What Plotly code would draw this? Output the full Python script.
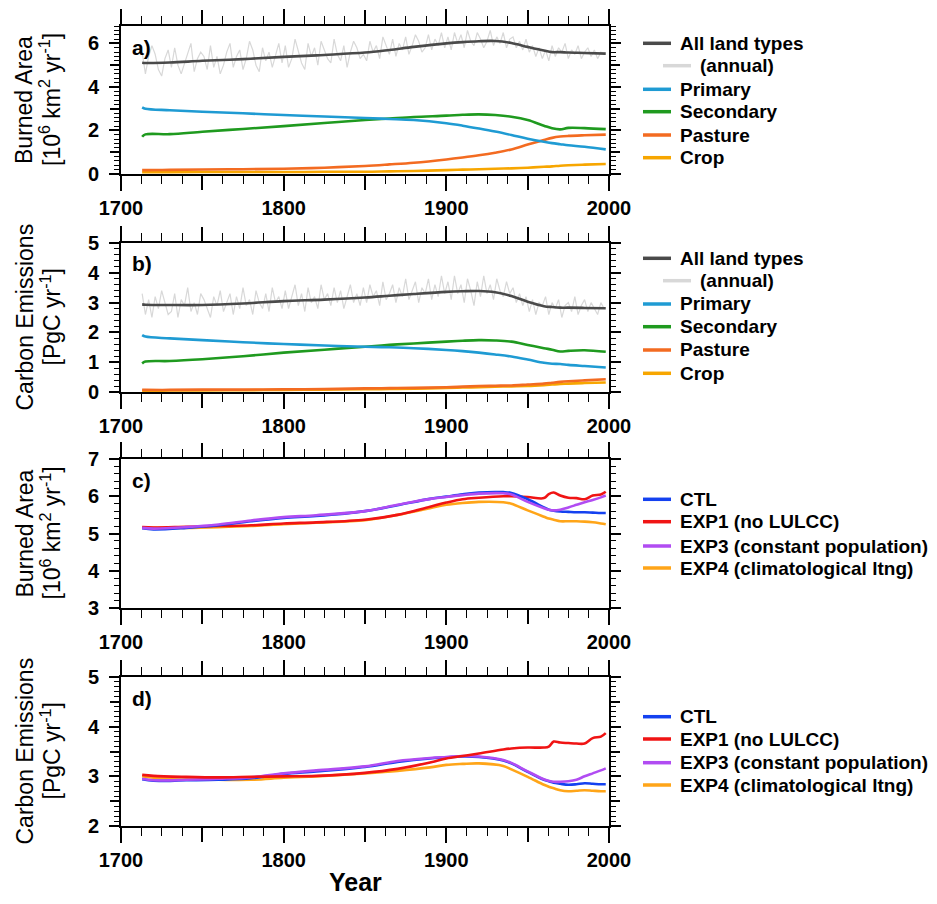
import plotly.graph_objects as go

# ---------------- DATA ----------------
# Panels a/b: smoothed series (knot years)
years_ab = [1713, 1715, 1730, 1750, 1775, 1800, 1825, 1850, 1865, 1880, 1900,
            1910, 1920, 1930, 1940, 1950, 1960, 1965, 1970, 1975, 1985, 1998]

ba_all = [5.11, 5.10, 5.12, 5.20, 5.28, 5.38, 5.47, 5.58, 5.70, 5.84, 6.00,
          6.06, 6.10, 6.11, 6.02, 5.84, 5.67, 5.60, 5.60, 5.58, 5.56, 5.53]
ba_primary = [3.06, 3.00, 2.93, 2.86, 2.79, 2.71, 2.64, 2.57, 2.53, 2.48, 2.33,
              2.22, 2.09, 1.95, 1.79, 1.62, 1.48, 1.42, 1.37, 1.32, 1.25, 1.13]
ba_secondary = [1.71, 1.82, 1.83, 1.94, 2.07, 2.20, 2.34, 2.48, 2.55, 2.62, 2.68,
                2.72, 2.74, 2.71, 2.63, 2.48, 2.22, 2.10, 2.05, 2.12, 2.11, 2.06]
ba_pasture = [0.18, 0.18, 0.19, 0.21, 0.22, 0.24, 0.29, 0.37, 0.44, 0.52, 0.67,
              0.76, 0.86, 0.98, 1.13, 1.35, 1.56, 1.66, 1.72, 1.75, 1.78, 1.81]
ba_crop = [0.08, 0.08, 0.08, 0.09, 0.09, 0.09, 0.10, 0.10, 0.12, 0.14, 0.18,
           0.20, 0.22, 0.24, 0.26, 0.29, 0.33, 0.35, 0.38, 0.40, 0.43, 0.46]

ce_all = [2.94, 2.93, 2.92, 2.92, 2.97, 3.05, 3.10, 3.17, 3.23, 3.29, 3.36,
          3.38, 3.39, 3.35, 3.22, 3.03, 2.88, 2.85, 2.83, 2.83, 2.82, 2.81]
ce_primary = [1.91, 1.86, 1.80, 1.74, 1.67, 1.61, 1.56, 1.52, 1.50, 1.47, 1.41,
              1.37, 1.32, 1.26, 1.19, 1.09, 0.98, 0.95, 0.94, 0.91, 0.87, 0.82]
ce_secondary = [0.96, 1.02, 1.04, 1.10, 1.20, 1.32, 1.42, 1.52, 1.58, 1.63, 1.69,
                1.72, 1.74, 1.73, 1.69, 1.58, 1.47, 1.42, 1.36, 1.38, 1.40, 1.35]
ce_pasture = [0.07, 0.07, 0.07, 0.08, 0.08, 0.09, 0.10, 0.12, 0.13, 0.14, 0.16,
              0.18, 0.20, 0.21, 0.22, 0.25, 0.28, 0.31, 0.34, 0.36, 0.39, 0.43]
ce_crop = [0.04, 0.04, 0.05, 0.05, 0.06, 0.07, 0.08, 0.09, 0.10, 0.11, 0.14,
           0.15, 0.16, 0.18, 0.19, 0.20, 0.23, 0.25, 0.27, 0.28, 0.30, 0.32]

# Annual (unsmoothed) totals, every second year 1713..1997
years_annual = list(range(1713, 1998, 2))
ba_annual = [
    5.6, 4.6, 5.4, 5.9, 5.5, 4.8, 4.5, 5.3, 5.7, 4.9, 5.8, 5.0, 4.6, 5.1, 5.5, 6.0, 4.7, 5.3, 5.6, 5.4, 4.8, 5.9, 4.9, 5.4,
    4.6, 5.0, 5.6, 6.0, 4.9, 5.4, 5.7, 4.8, 5.3, 6.1, 5.7, 5.0, 4.7, 5.8, 5.2, 5.6, 4.9, 5.4, 6.0, 5.1,
    5.9, 4.9, 5.3, 6.2, 5.6, 5.1, 4.8, 6.0, 5.4, 5.8, 5.0, 6.1, 5.7, 5.3, 5.1, 6.2, 5.5, 5.2, 5.9, 4.9, 5.6, 6.1, 5.8, 5.3, 5.5,
    5.2, 6.1, 5.6, 5.9, 5.3, 6.3, 5.9, 5.5, 6.2, 5.4, 6.0, 5.7, 6.3, 5.5, 5.9, 6.4, 6.1, 5.6, 5.8, 6.4, 5.7, 6.2, 5.9, 6.5, 5.8,
    6.3, 5.7, 6.5, 6.0, 6.4, 5.8, 6.6, 6.1, 5.9, 6.5, 6.2, 5.8, 6.1, 6.6, 5.9, 6.3, 6.0, 6.5, 5.8, 6.2,
    6.3, 5.8, 6.1, 5.7, 6.2, 5.6, 5.9, 5.4, 5.8, 5.3, 5.7, 5.2, 5.9, 5.4, 5.8, 5.6, 6.0, 5.3, 5.7, 5.5, 5.9, 5.3, 5.6, 5.8, 5.4, 5.7, 5.3, 5.6, 5.5,
]
ce_annual = [
    3.3, 2.6, 3.1, 2.5, 3.2, 2.8, 3.4, 3.0, 2.6, 2.7, 3.3, 2.5, 3.1, 2.9, 3.5, 2.7, 3.0, 2.6, 3.3, 3.1, 2.8, 2.5, 3.2, 2.9,
    3.4, 2.7, 3.0, 3.3, 2.6, 3.2, 2.8, 3.5, 2.9, 3.1, 2.6, 3.4, 3.0, 2.8, 3.3, 2.7, 3.5, 3.0, 3.2, 2.8,
    3.4, 2.8, 3.2, 3.6, 2.9, 3.3, 2.7, 3.5, 3.0, 3.2, 2.8, 3.6, 3.1, 3.3, 2.9, 3.5, 3.0, 3.4, 2.8, 3.2, 3.6, 3.0, 3.3, 2.9, 3.5,
    3.0, 3.6, 3.2, 3.4, 2.9, 3.7, 3.1, 3.3, 3.6, 3.0, 3.5, 3.2, 3.8, 3.1, 3.4, 3.7, 3.0, 3.5, 3.3, 3.8, 3.1, 3.6, 3.2, 3.9, 3.3,
    3.7, 3.1, 3.9, 3.3, 3.6, 3.0, 3.8, 3.4, 2.9, 3.7, 3.2, 3.9, 3.3, 3.6, 3.1, 3.8, 3.4, 3.2, 3.7, 3.3,
    3.5, 3.0, 3.3, 2.9, 3.2, 2.7, 3.1, 2.6, 3.0, 2.9, 3.2, 2.6, 3.0, 2.8, 3.1, 2.5, 2.9, 3.0, 2.7, 3.2, 2.6, 2.9, 3.1, 2.7, 3.0, 2.8, 2.6, 3.0, 2.8,
]

# Panels c/d: experiments
years_cd = [1713, 1720, 1740, 1760, 1780, 1800, 1820, 1850, 1870, 1890, 1900, 1910, 1920,
            1935, 1940, 1950, 1960, 1963, 1966, 1970, 1975, 1980, 1985, 1990, 1995, 1998]
ba_ctl = [5.14, 5.11, 5.15, 5.22, 5.33, 5.42, 5.47, 5.60, 5.76, 5.93, 5.99, 6.05, 6.10,
          6.11, 6.09, 5.92, 5.70, 5.64, 5.61, 5.59, 5.58, 5.57, 5.57, 5.56, 5.55, 5.55]
ba_exp1 = [5.17, 5.16, 5.18, 5.20, 5.22, 5.27, 5.30, 5.37, 5.50, 5.72, 5.83, 5.92, 5.96,
           6.00, 6.00, 5.98, 5.95, 6.06, 6.10, 6.02, 5.96, 5.95, 5.92, 6.02, 6.05, 6.12]
ba_exp3 = [5.15, 5.13, 5.17, 5.24, 5.35, 5.44, 5.49, 5.60, 5.77, 5.93, 5.98, 6.03, 6.07,
           6.08, 6.05, 5.85, 5.68, 5.64, 5.62, 5.64, 5.70, 5.77, 5.84, 5.90, 5.97, 6.02]
ba_exp4 = [5.16, 5.15, 5.15, 5.17, 5.20, 5.25, 5.29, 5.36, 5.50, 5.68, 5.77, 5.82, 5.85,
           5.84, 5.80, 5.62, 5.45, 5.40, 5.37, 5.33, 5.33, 5.33, 5.32, 5.30, 5.27, 5.25]

ce_ctl = [2.94, 2.91, 2.92, 2.93, 2.96, 3.05, 3.10, 3.19, 3.29, 3.36, 3.38, 3.40, 3.39,
          3.32, 3.26, 3.09, 2.93, 2.90, 2.87, 2.85, 2.83, 2.84, 2.86, 2.85, 2.84, 2.84]
ce_exp1 = [3.03, 3.01, 2.99, 2.98, 2.99, 3.00, 3.01, 3.07, 3.15, 3.28, 3.36, 3.41, 3.46,
           3.54, 3.56, 3.58, 3.58, 3.60, 3.70, 3.68, 3.67, 3.66, 3.66, 3.77, 3.80, 3.87]
ce_exp3 = [2.95, 2.92, 2.93, 2.95, 2.98, 3.06, 3.12, 3.20, 3.31, 3.37, 3.39, 3.41, 3.40,
           3.33, 3.27, 3.10, 2.94, 2.91, 2.89, 2.89, 2.90, 2.93, 3.00, 3.06, 3.12, 3.16]
ce_exp4 = [3.00, 2.97, 2.94, 2.93, 2.93, 2.97, 3.00, 3.06, 3.11, 3.18, 3.23, 3.25, 3.26,
           3.21, 3.14, 2.99, 2.83, 2.79, 2.76, 2.72, 2.70, 2.71, 2.72, 2.71, 2.70, 2.70]

x_label_ticks = [1700, 1800, 1900, 2000]
x_label_text = ["1700", "1800", "1900", "2000"]
x_mid_ticks = [1750, 1850, 1950]

names_ab = ["All land types", "(annual)", "Primary", "Secondary", "Pasture", "Crop"]
names_cd = ["CTL", "EXP1 (no LULCC)", "EXP3 (constant population)", "EXP4 (climatological ltng)"]

# ---------------- STYLE ----------------
C_ALL, C_ANN, C_PRI, C_SEC, C_PAS, C_CRO = "#4a4a4a", "#d8d8d8", "#1f9bd3", "#1f9a1f", "#f36b21", "#f7a600"
C_CTL, C_EXP1, C_EXP3, C_EXP4 = "#1441f0", "#f01414", "#b14cf2", "#ffa518"

# the page body has an 8 px margin; figure sized to fit the 937x904 window
OFF = 8
W, H = 937 - 2 * OFF, 904 - 2 * OFF
FONT = "Liberation Sans"
XL, XR = 121, 609   # screen pixels
panels = {"a": (26, 174), "b": (243, 392), "c": (459, 608), "d": (677, 826)}

def py(y):
    return 1 - (y - OFF) / H

def px(x):
    return (x - OFF) / W

fig = go.Figure()

def add(xs, ys, color, xa, ya, width=2.6, shape="spline"):
    fig.add_trace(go.Scatter(x=xs, y=ys, mode="lines", line=dict(color=color, width=width, shape=shape),
                             xaxis=xa, yaxis=ya, showlegend=False, hoverinfo="skip"))

# panel a
add(years_annual, ba_annual, C_ANN, "x", "y", width=1.2, shape="linear")
add(years_ab, ba_crop, C_CRO, "x", "y")
add(years_ab, ba_pasture, C_PAS, "x", "y")
add(years_ab, ba_secondary, C_SEC, "x", "y")
add(years_ab, ba_primary, C_PRI, "x", "y")
add(years_ab, ba_all, C_ALL, "x", "y")
# panel b
add(years_annual, ce_annual, C_ANN, "x2", "y2", width=1.2, shape="linear")
add(years_ab, ce_crop, C_CRO, "x2", "y2")
add(years_ab, ce_pasture, C_PAS, "x2", "y2")
add(years_ab, ce_secondary, C_SEC, "x2", "y2")
add(years_ab, ce_primary, C_PRI, "x2", "y2")
add(years_ab, ce_all, C_ALL, "x2", "y2")
# panel c
add(years_cd, ba_exp4, C_EXP4, "x3", "y3")
add(years_cd, ba_exp1, C_EXP1, "x3", "y3")
add(years_cd, ba_ctl, C_CTL, "x3", "y3")
add(years_cd, ba_exp3, C_EXP3, "x3", "y3")
# panel d
add(years_cd, ce_exp4, C_EXP4, "x4", "y4")
add(years_cd, ce_ctl, C_CTL, "x4", "y4")
add(years_cd, ce_exp3, C_EXP3, "x4", "y4")
add(years_cd, ce_exp1, C_EXP1, "x4", "y4")

# empty traces so that the overlay tick axes are instantiated
for i in range(1, 5):
    fig.add_trace(go.Scatter(x=[], y=[], xaxis="x%d" % (i + 4), yaxis="y" if i == 1 else "y%d" % i,
                             showlegend=False, hoverinfo="skip"))
for xa, ya in (("x", "y5"), ("x4", "y8")):
    fig.add_trace(go.Scatter(x=[], y=[], xaxis=xa, yaxis=ya, showlegend=False, hoverinfo="skip"))

tickfont = dict(family=FONT, size=20, color="black", weight="bold")

def xaxis(key, anchor, overlay=None):
    d = dict(domain=[px(XL), px(XR)], range=[1700, 2000], anchor=anchor, automargin=False,
             ticks="outside", ticklen=15, tickwidth=1.5, tickcolor="black",
             showgrid=False, zeroline=False, mirror="ticks")
    if overlay is None:
        d.update(showline=True, linecolor="black", linewidth=1.6,
                 tickmode="array", tickvals=x_label_ticks, ticktext=x_label_text,
                 tickfont=tickfont,
                 minor=dict(ticks="outside", ticklen=8, tickwidth=1.3, tickcolor="black",
                            tickmode="linear", tick0=1700, dtick=12.5, showgrid=False))
    else:
        d.update(overlaying=overlay, showline=False, tickmode="array",
                 tickvals=x_mid_ticks, showticklabels=False)
    return d

def yaxis(key, anchor, rng, vals, text, mdt):
    top, bot = panels[key]
    return dict(domain=[py(bot), py(top)], range=rng, anchor=anchor, automargin=False,
                showline=True, linecolor="black", linewidth=1.6, mirror="ticks",
                ticks="outside", ticklen=10, tickwidth=1.5, tickcolor="black",
                tickmode="array", tickvals=vals, ticktext=text,
                tickfont=tickfont, showgrid=False, zeroline=False, ticklabelstandoff=6,
                minor=dict(ticks="outside", ticklen=5, tickwidth=1.2, tickcolor="black",
                           tickmode="linear", tick0=0, dtick=mdt, showgrid=False))

def yaxis_mid(key, anchor, overlay, rng, vals):
    top, bot = panels[key]
    return dict(domain=[py(bot), py(top)], range=rng, anchor=anchor, automargin=False,
                overlaying=overlay, showline=False, mirror="ticks",
                ticks="outside", ticklen=10, tickwidth=1.5, tickcolor="black",
                tickmode="array", tickvals=vals, showticklabels=False,
                showgrid=False, zeroline=False)

layout = dict(
    width=W, height=H, margin=dict(l=0, r=0, t=0, b=0, autoexpand=False),
    paper_bgcolor="white", plot_bgcolor="white", showlegend=False,
    xaxis=xaxis("a", "y"), xaxis2=xaxis("b", "y2"), xaxis3=xaxis("c", "y3"), xaxis4=xaxis("d", "y4"),
    xaxis5=xaxis("a", "y", "x"), xaxis6=xaxis("b", "y2", "x2"),
    xaxis7=xaxis("c", "y3", "x3"), xaxis8=xaxis("d", "y4", "x4"),
    yaxis=yaxis("a", "x", [0, 6.8], [0, 2, 4, 6], ["0", "2", "4", "6"], 0.2),
    yaxis2=yaxis("b", "x2", [0, 5], [0, 1, 2, 3, 4, 5], ["0", "1", "2", "3", "4", "5"], 0.2),
    yaxis3=yaxis("c", "x3", [3, 7], [3, 4, 5, 6, 7], ["3", "4", "5", "6", "7"], 0.2),
    yaxis4=yaxis("d", "x4", [2, 5], [2, 3, 4, 5], ["2", "3", "4", "5"], 0.1),
    yaxis5=yaxis_mid("a", "x", "y", [0, 6.8], [1, 3, 5]),
    yaxis8=yaxis_mid("d", "x4", "y4", [2, 5], [2.5, 3.5, 4.5]),
)
fig.update_layout(**layout)

annotations = []
shapes = []

# y-axis titles and panel labels
ba_title = ("Burned Area", "[10<sup>6</sup> km<sup>2</sup> yr<sup>-1</sup>]")
ce_title = ("Carbon Emissions", "[PgC yr<sup>-1</sup>]")
for key, t in (("a", ba_title), ("b", ce_title), ("c", ba_title), ("d", ce_title)):
    top, bot = panels[key]
    yc = (top + bot) / 2
    for txt, xc in ((t[0], 24), (t[1], 50)):
        annotations.append(dict(text=txt, x=px(xc), y=py(yc), xref="paper", yref="paper",
                                xanchor="center", yanchor="middle", textangle=-90, showarrow=False,
                                font=dict(family=FONT, size=23, color="black")))
    annotations.append(dict(text=key + ")", x=px(130), y=py(top + 21), xref="paper", yref="paper",
                            xanchor="left", yanchor="middle", showarrow=False,
                            font=dict(family=FONT, size=21, color="black", weight="bold")))

annotations.append(dict(text="Year", x=px(355), y=py(882), xref="paper", yref="paper",
                        xanchor="center", yanchor="middle", showarrow=False,
                        height=26, valign="middle", borderpad=0,
                        font=dict(family=FONT, size=25, color="black", weight="bold")))

def legend(entries, ys):
    for (name, color, indent), y in zip(entries, ys):
        x0 = 643 + (20 if indent else 0)
        shapes.append(dict(type="line", xref="paper", yref="paper", x0=px(x0), x1=px(x0 + 28),
                           y0=py(y), y1=py(y), line=dict(color=color, width=3.5)))
        annotations.append(dict(text=name, x=px(x0 + 35), y=py(y), xref="paper", yref="paper",
                                xanchor="left", yanchor="middle", showarrow=False,
                                font=dict(family=FONT, size=19, color="black", weight="bold")))

ab_entries = list(zip(names_ab, [C_ALL, C_ANN, C_PRI, C_SEC, C_PAS, C_CRO],
                      [False, True, False, False, False, False]))
cd_entries = list(zip(names_cd, [C_CTL, C_EXP1, C_EXP3, C_EXP4], [False] * 4))
legend(ab_entries, [43.3, 65.7, 89.3, 111.7, 135, 157.7])
legend(ab_entries, [258.3, 280.7, 304, 326.7, 350, 373.3])
legend(cd_entries, [499.3, 521.7, 546, 568])
legend(cd_entries, [716.7, 739, 762.7, 785])

fig.update_layout(annotations=annotations, shapes=shapes)
fig.write_html("out.html")
